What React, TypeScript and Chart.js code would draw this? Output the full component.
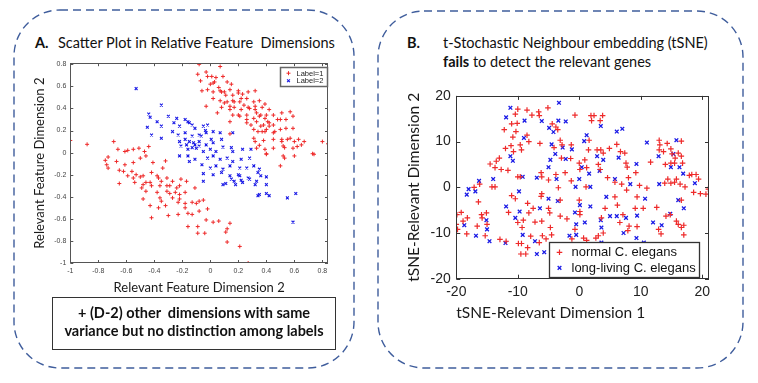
import React, { useEffect, useRef } from 'react';
import { Chart, registerables } from 'chart.js';

Chart.register(...registerables);

type Pt = [number, number];

// ---------- Panel A data: relevant feature dimensions ----------
const labelOne: Pt[] = [
  [-0.15, 0.82], [-0.08, 0.8], [0.07, 0.78], [-0.09, 0.71], [-0.03, 0.73], [0.01, 0.69], [0.04, 0.68], [0.09, 0.69],
  [-0.07, 0.65], [0.0, 0.62], [0.03, 0.64], [0.06, 0.59], [0.12, 0.64], [0.15, 0.62], [-0.06, 0.56], [-0.02, 0.57],
  [0.02, 0.55], [0.07, 0.56], [0.1, 0.55], [0.14, 0.57], [0.16, 0.52], [0.2, 0.56], [0.23, 0.53], [0.27, 0.55],
  [0.32, 0.56], [0.02, 0.49], [0.07, 0.47], [0.12, 0.46], [0.16, 0.47], [0.21, 0.46], [0.26, 0.49], [0.31, 0.46],
  [0.35, 0.47], [0.39, 0.44], [-0.03, 0.42], [0.08, 0.41], [0.14, 0.39], [0.17, 0.41], [0.22, 0.39], [0.27, 0.41],
  [0.32, 0.39], [0.37, 0.41], [0.42, 0.39], [0.16, 0.34], [0.21, 0.33], [0.26, 0.34], [0.31, 0.31], [0.35, 0.33],
  [0.4, 0.34], [0.45, 0.34], [0.51, 0.36], [0.57, 0.37], [0.14, 0.28], [0.26, 0.27], [0.33, 0.28], [0.38, 0.25],
  [0.42, 0.27], [0.5, 0.3], [0.54, 0.3], [0.59, 0.33], [0.31, 0.21], [0.37, 0.19], [0.4, 0.21], [0.45, 0.18],
  [0.5, 0.21], [0.54, 0.22], [0.59, 0.22], [0.14, 0.17], [0.31, 0.13], [0.38, 0.11], [0.45, 0.12], [0.51, 0.1],
  [0.57, 0.13], [0.63, 0.12], [0.67, 0.1], [0.33, 0.04], [0.39, 0.03], [0.45, 0.04], [0.52, 0.06], [0.59, 0.04],
  [0.65, 0.07], [0.8, 0.1], [0.84, 0.08], [0.4, -0.01], [0.52, -0.03], [0.6, -0.03], [0.73, -0.01], [0.5, -0.12],
  [-0.02, 0.69], [0.02, 0.63], [0.08, 0.55], [0.11, 0.52], [0.2, 0.54], [0.22, 0.49], [0.17, 0.46], [0.1, 0.45],
  [0.14, 0.42], [0.24, 0.43], [0.28, 0.4], [0.32, 0.42], [0.33, 0.36], [0.36, 0.34], [0.39, 0.31], [0.41, 0.28],
  [0.42, 0.24], [0.45, 0.25], [0.48, 0.3], [0.36, 0.24], [0.34, 0.19], [0.39, 0.19], [0.05, 0.36], [0.2, 0.34],
  [0.26, 0.3], [0.29, 0.25], [0.46, 0.19], [0.51, 0.12], [0.55, 0.12], [0.6, 0.1], [0.53, 0.045], [0.62, 0.055],
  [0.74, -0.015], [0.32, 0.1], [0.35, 0.066], [0.4, -0.015], [0.53, -0.05],
  [-1.0, 0.11], [-0.88, 0.075], [-0.69, 0.1],
  [-0.66, 0.03], [-0.61, 0.01], [-0.55, 0.03], [-0.51, 0.04], [-0.47, 0.01], [-0.73, -0.04], [-0.74, -0.11], [-0.67, -0.08],
  [-0.61, -0.11], [-0.55, -0.09], [-0.5, -0.05], [-0.46, -0.03], [-0.41, -0.09], [-0.34, -0.14], [-0.62, -0.17], [-0.56, -0.17],
  [-0.53, -0.2], [-0.48, -0.21], [-0.42, -0.18], [-0.37, -0.23], [-0.31, -0.23], [-0.27, -0.26], [-0.21, -0.24], [-0.17, -0.26],
  [-0.65, -0.28], [-0.54, -0.27], [-0.48, -0.29], [-0.43, -0.27], [-0.36, -0.3], [-0.29, -0.3], [-0.22, -0.3], [-0.11, -0.32],
  [-0.46, -0.35], [-0.38, -0.36], [-0.31, -0.35], [-0.25, -0.36], [-0.18, -0.36], [-0.48, -0.42], [-0.36, -0.41], [-0.27, -0.41],
  [-0.22, -0.42], [-0.05, -0.43], [-0.59, 0.02], [-0.44, 0.055], [-0.32, -0.075], [-0.75, -0.07],
  [-0.73, -0.14], [-0.65, -0.16], [-0.59, -0.21], [-0.55, -0.23], [-0.5, -0.22], [-0.49, -0.32], [-0.46, -0.27], [-0.42, -0.3],
  [-0.38, -0.21], [-0.35, -0.26], [-0.31, -0.3], [-0.29, -0.37], [-0.24, -0.32], [-0.22, -0.38], [-0.35, -0.44], [-0.32, -0.48],
  [-0.23, -0.45], [-0.18, -0.46], [-0.13, -0.45], [-0.16, -0.55], [-0.1, -0.46], [-0.08, -0.44], [-0.43, -0.48], [-0.37, -0.5],
  [-0.18, -0.5], [-0.08, -0.53], [-0.02, -0.51], [-0.42, -0.59], [-0.3, -0.57], [-0.23, -0.56], [-0.13, -0.56], [-0.03, -0.61],
  [0.02, -0.63], [0.06, -0.62], [0.14, -0.64], [-0.16, -0.67], [-0.09, -0.67], [0.12, -0.69], [-0.09, -0.73], [-0.04, -0.73],
  [0.11, -0.72], [0.12, -0.81], [0.21, -0.85], [0.27, -1.0],
];

const labelTwo: Pt[] = [
  [-0.53, 0.58], [-0.35, 0.43], [-0.44, 0.35], [-0.43, 0.32], [-0.3, 0.33], [-0.24, 0.31], [-0.18, 0.3], [-0.45, 0.23],
  [-0.38, 0.28], [-0.35, 0.24], [-0.26, 0.27], [-0.22, 0.24], [-0.15, 0.27], [-0.11, 0.22], [-0.05, 0.24], [-0.02, 0.25],
  [-0.42, 0.16], [-0.35, 0.13], [-0.27, 0.19], [-0.23, 0.16], [-0.18, 0.18], [-0.13, 0.15], [-0.08, 0.16], [-0.03, 0.18],
  [0.02, 0.19], [0.07, 0.18], [-0.22, 0.1], [-0.17, 0.07], [-0.12, 0.09], [-0.08, 0.1], [-0.03, 0.07], [0.02, 0.09],
  [0.08, 0.12], [0.16, 0.18], [-0.16, 0.03], [-0.1, 0.04], [-0.05, 0.01], [0.0, 0.03], [0.04, 0.01], [0.16, 0.01],
  [0.23, 0.03], [0.29, 0.03], [-0.22, -0.03], [-0.15, -0.08], [-0.06, -0.11], [-0.02, -0.05], [0.02, -0.03], [0.07, -0.06],
  [0.12, -0.05], [0.16, -0.08], [0.22, -0.06], [0.0, -0.14], [0.04, -0.12], [0.09, -0.15], [0.14, -0.12], [0.21, -0.14],
  [0.31, -0.12], [0.02, -0.2], [0.08, -0.18], [0.14, -0.21], [0.21, -0.21], [0.27, -0.23], [0.34, -0.18], [0.36, -0.21],
  [0.09, -0.29], [0.17, -0.26], [0.23, -0.27], [0.28, -0.24], [0.33, -0.26], [0.4, -0.29], [0.34, -0.39], [0.4, -0.37],
  [0.42, -0.39], [0.55, -0.41], [0.61, -0.37], [0.59, -0.63],
  [-0.065, 0.15], [-0.035, 0.2], [0.006, 0.12], [-0.08, 0.06], [0.09, 0.05], [0.15, 0.045], [0.28, -0.05],
  [-0.05, -0.19], [-0.05, -0.26], [0.2, -0.2], [0.26, -0.14], [0.35, -0.15], [0.4, -0.22], [0.22, -0.25], [0.15, -0.24],
  [0.11, -0.28], [0.18, -0.29], [0.32, -0.29], [0.35, -0.38],
  [-0.16, 0.28], [-0.13, 0.25], [-0.15, 0.1], [-0.11, 0.07], [-0.13, 0.045], [-0.21, 0.06], [-0.18, 0.12], [-0.16, -0.03],
  [-0.11, -0.06],
];

const panelATicks = [-1, -0.8, -0.6, -0.4, -0.2, 0, 0.2, 0.4, 0.6, 0.8];
const panelAXLimits = [-1, 0.84];
const panelAYLimits = [-1, 0.81];
const panelALabels = ['Label=1', 'Label=2'];

// ---------- Panel B data: tSNE embedding ----------
const normalElegans: Pt[] = [
  [-14.2, 0.1], [-13.7, 0.1], [-17.1, 0], [-16.2, 0.7], [-14.5, 5.1], [-13.5, 5.7], [-13.0, 6.4], [-13.7, 4.3],
  [-12.7, 3.9], [-11.6, 3.7], [-12.0, 8.5], [-11.1, 9.1], [-10.7, 7.8], [-12.2, 12.6], [-11.0, 13.9], [-10.4, 16.0],
  [-10.1, 14.0], [-10.3, 12.2], [-10.8, 11.0], [-8.5, 11.4], [-8.2, 10.0], [-9.6, 9.3], [-9.4, 8.2], [-10.0, 2.3],
  [-9.6, 2.3], [-10.0, 17.1], [-8.5, 16.9], [-7.7, 15.8], [-6.6, 16.5], [-6.5, 15.7], [-5.1, 17.4], [-6.4, 9.6],
  [-6.2, 3.2], [-6.1, 2.3], [-4.4, 13.9], [-3.8, 13.2], [-3.5, 12.6], [-3.1, 10.3], [-4.1, 8.7], [-2.8, 9.3],
  [-5.0, 1.6], [-3.8, 2.8], [-2.9, 6.4], [-2.3, 3.2], [-1.3, 9.3], [-1.4, 6.3], [-0.7, 15.8], [-1.3, 1.4],
  [0.0, 5.3], [0.1, 3.9], [0.9, 6.0], [1.2, 4.3], [1.1, 0.1], [1.5, 8.2], [1.6, 10.3], [1.9, 15.7],
  [2.4, 15.7], [2.0, 14.6], [3.4, 14.6], [3.8, 15.7], [2.9, 8.2], [3.5, 8.2], [3.9, 7.5], [3.1, 5.0],
  [3.4, 3.9], [4.6, 2.1], [4.9, 8.5], [6.1, 9.4], [6.7, 7.8], [7.4, 7.5], [7.6, 5.3], [7.8, 4.4],
  [5.8, 1.1], [6.9, 0.7], [8.0, 2.1], [9.2, 3.2], [9.8, 0.4], [11.0, -0.2], [11.6, 5.5], [13.0, 10.3],
  [13.1, 9.3], [13.0, 8.2], [14.3, 9.6], [13.7, 7.8], [14.9, 8.4], [15.1, 7.3], [15.6, 6.4], [14.9, 5.3],
  [15.5, 5.3], [16.1, 7.5], [16.6, 10.1], [16.6, 6.8], [16.8, 5.3], [14.0, 5.0], [13.9, 0.9], [14.9, 0.9],
  [15.5, 1.1], [15.8, 1.8], [16.4, 0.7], [17.2, 0.1], [17.9, 2.6], [18.3, 2.8], [19.0, 2.8], [19.4, 1.8],
  [14.4, 1.8],
  [-19.9, -6.0], [-19.2, -5.5], [-20.0, -8.1], [-19.8, -9.2], [-18.9, -7.4], [-18.2, -6.7], [-18.3, -10.2], [-16.4, -3.2],
  [-16.6, -8.5], [-15.8, -6.7], [-15.9, -6.0], [-15.1, -5.6], [-15.0, -8.1], [-15.3, -10.6], [-12.9, -11.4], [-11.9, -11.8],
  [-11.0, -1.8], [-10.4, -2.5], [-11.5, -5.5], [-10.0, -7.7], [-9.3, -8.8], [-9.1, -7.2], [-9.9, -12.3], [-9.4, -12.3],
  [-8.4, -13.2], [-9.5, -14.6], [-8.7, -14.6], [-8.4, -3.5], [-7.5, -4.6], [-8.2, -5.6], [-7.9, -10.7], [-7.2, -7.6],
  [-6.5, -12.1], [-6.1, -7.4], [-6.0, -10.6], [-5.4, -11.3], [-5.0, -4.6], [-4.8, -5.6], [-4.7, -8.8], [-4.5, -10.4],
  [-6.2, -2.0], [-6.1, -1.4], [-3.4, -0.1], [-3.1, -2.8], [-3.1, -6.3], [-2.0, -6.9], [-1.2, -11.3], [-0.7, -9.2],
  [0.0, -2.8], [0.1, -5.3], [0.1, -6.0], [0.7, -11.1], [1.2, -11.6], [2.7, -11.1], [3.1, -10.6], [3.6, -6.7],
  [3.9, -10.0], [4.2, -4.6], [6.2, -3.9], [5.8, -2.1], [6.6, -7.7], [7.1, -6.0], [7.7, -0.6], [8.1, -8.5],
  [7.9, -9.5], [9.1, -4.6], [9.4, -2.1], [9.4, -8.6], [10.4, -4.6], [12.6, -4.4], [12.9, -9.2], [13.3, -10.2],
  [14.1, -6.3], [14.8, -6.0], [15.8, -7.4], [16.1, -8.1], [16.6, -8.8], [17.0, -10.4], [17.0, -8.3], [16.6, -2.8],
  [18.6, -1.1], [19.7, -1.4], [20.6, -1.5], [21.0, -0.4],
];

const longLiving: Pt[] = [
  [-18.3, -1.6], [-18.0, -0.4], [-16.9, -0.9], [-16.3, 1.4], [-14.0, 1.8], [-11.2, 6.8], [-10.8, 5.8], [-11.9, 15.3],
  [-11.2, 17.4], [-8.9, 14.6], [-9.0, 10.8], [-9.2, 2.3], [-6.9, 2.1], [-9.8, -0.9], [-6.1, 14.5], [-4.9, 13.0],
  [-4.2, 12.1], [-3.4, 14.6], [-3.3, 18.5], [-2.2, 14.4], [-4.5, 9.4], [-3.9, 7.3], [-4.7, 6.0], [-5.0, 4.4],
  [-2.7, 8.7], [-2.2, 6.2], [-3.7, 1.8], [-1.2, 8.3], [-0.6, 0.1], [0.0, 1.8], [0.4, 4.4], [1.2, 11.4],
  [0.8, 10.1], [1.6, 3.0], [1.8, 0.1], [2.9, 6.8], [3.5, 13.4], [3.3, 3.6], [3.9, 6.0], [5.8, 1.8],
  [6.1, 12.2], [7.0, 12.8], [6.4, 6.5], [8.3, 0.7], [9.3, 5.1], [11.0, 9.8], [12.9, 6.8], [13.0, 0.7],
  [14.9, 4.4], [15.3, 7.3], [15.8, 10.3], [16.3, 4.4], [16.9, 3.0], [18.8, 0.9], [16.1, -2.8],
  [-18.7, -8.3], [-16.8, -10.6], [-15.1, -7.2], [-15.0, -9.2], [-14.6, -11.8], [-11.9, -4.2], [-12.0, -12.2], [-10.4, -6.7],
  [-9.7, -5.3], [-9.2, -10.4], [-7.2, -11.8], [-6.9, -14.6], [-5.7, -14.2], [-6.4, -4.6], [-5.0, -2.5], [-3.5, -3.0],
  [-0.7, -5.5], [-0.5, -8.1], [-1.6, -10.6], [-0.5, -10.4], [0.1, -3.9], [0.9, -7.7], [1.8, -4.2], [3.5, -7.2],
  [3.6, -8.8], [4.4, -2.1], [5.0, -6.3], [6.1, -6.3], [7.2, -10.0], [7.6, -6.7], [9.4, -6.2], [9.3, -11.1],
  [10.7, -2.5], [10.5, -12.1], [12.0, -7.7], [13.4, -8.3], [14.8, -5.8], [17.0, -4.6], [3.6, -12.1],
];

const panelBTicks = [-20, -10, 0, 10, 20];
const panelBXLimits = [-20, 21.1];
const panelBYLimits = [-20, 20];
const panelBLabels = ['normal C. elegans', 'long-living C. elegans'];

const RED = '#ee2a2a';
const BLUE = '#1a1ae6';

// ---------- plugins ----------
function drawMarker(ctx: CanvasRenderingContext2D, style: string, cx: number, cy: number, r: number, color: string, lw: number) {
  ctx.save();
  ctx.strokeStyle = color;
  ctx.lineWidth = lw;
  ctx.beginPath();
  if (style === 'cross') {
    ctx.moveTo(cx - r, cy); ctx.lineTo(cx + r, cy);
    ctx.moveTo(cx, cy - r); ctx.lineTo(cx, cy + r);
  } else {
    const d = r * Math.SQRT1_2;
    ctx.moveTo(cx - d, cy - d); ctx.lineTo(cx + d, cy + d);
    ctx.moveTo(cx - d, cy + d); ctx.lineTo(cx + d, cy - d);
  }
  ctx.stroke();
  ctx.restore();
}

const matlabBox = {
  id: 'matlabBox',
  afterDatasetsDraw(chart: any, _args: any, o: any) {
    const { ctx, chartArea: a, scales } = chart;
    const xs = scales.x;
    const ys = scales.y;
    ctx.save();
    ctx.strokeStyle = o.color;
    ctx.lineWidth = o.lineWidth;
    ctx.beginPath();
    for (const t of xs.ticks) {
      const px = Math.round(xs.getPixelForValue(t.value)) + 0.5;
      ctx.moveTo(px, a.bottom); ctx.lineTo(px, a.bottom - o.tick);
      ctx.moveTo(px, a.top); ctx.lineTo(px, a.top + o.tick);
    }
    for (const t of ys.ticks) {
      const py = Math.round(ys.getPixelForValue(t.value)) + 0.5;
      ctx.moveTo(a.left, py); ctx.lineTo(a.left + o.tick, py);
      ctx.moveTo(a.right, py); ctx.lineTo(a.right - o.tick, py);
    }
    ctx.stroke();
    ctx.strokeRect(Math.round(a.left) + 0.5, Math.round(a.top) + 0.5, Math.round(a.width) - 1, Math.round(a.height) - 1);
    ctx.restore();
  },
};

const boxLegend = {
  id: 'boxLegend',
  afterDraw(chart: any, _args: any, o: any) {
    const { ctx, chartArea: a } = chart;
    const ds = chart.data.datasets;
    ctx.save();
    ctx.font = `${o.size}px ${o.family}`;
    const tw = Math.max(...ds.map((d: any) => ctx.measureText(d.label).width));
    const w = o.textX + tw + o.padR;
    const h = o.padV * 2 + o.rowH * ds.length;
    const left = Math.round(a.right - o.right - w) + 0.5;
    const top = Math.round(o.fromBottom ? a.bottom - o.offY - h : a.top + o.offY) + 0.5;
    ctx.fillStyle = '#fff';
    ctx.fillRect(left, top, w, h);
    ctx.strokeStyle = o.border;
    ctx.lineWidth = o.borderWidth;
    ctx.strokeRect(left, top, Math.round(w), Math.round(h));
    ds.forEach((d: any, i: number) => {
      const cy = top + o.padV + o.rowH * (i + 0.5);
      drawMarker(ctx, d.pointStyle, left + o.markX, cy, d.pointRadius, d.borderColor, d.borderWidth);
      ctx.fillStyle = o.color;
      ctx.textBaseline = 'middle';
      ctx.textAlign = 'left';
      ctx.fillText(d.label, left + o.textX, cy + 0.5);
    });
    ctx.restore();
  },
};

function axis(lim: number[], ticks: number[], fit: (s: any) => void, tickFont: number, tickColor: string, tickPad: number,
  title: string, titleSize: number, titlePad: any, align: string) {
  return {
    type: 'linear',
    min: lim[0],
    max: lim[1],
    afterBuildTicks: (s: any) => { s.ticks = ticks.map((v) => ({ value: v })); },
    afterFit: fit,
    grid: { display: false, drawTicks: false },
    border: { display: false },
    ticks: {
      autoSkip: false,
      maxRotation: 0,
      padding: tickPad,
      color: tickColor,
      font: { family: 'Liberation Sans', size: tickFont },
      callback: (v: any) => String(v),
    },
    title: {
      display: true,
      text: title,
      color: '#1a1a1a',
      align,
      font: { family: 'Lato', size: titleSize },
      padding: titlePad,
    },
  };
}

function series(label: string, pts: Pt[], style: string, r: number, color: string, lw: number) {
  return {
    label,
    data: pts.map(([x, y]) => ({ x, y })),
    pointStyle: style,
    pointRadius: r,
    pointHoverRadius: r,
    borderColor: color,
    backgroundColor: color,
    borderWidth: lw,
  };
}

function configA(): any {
  return {
    type: 'scatter',
    data: {
      datasets: [
        series(panelALabels[0], labelOne, 'cross', 2, RED, 1),
        series(panelALabels[1], labelTwo, 'crossRot', 2, BLUE, 1.1),
      ],
    },
    options: {
      responsive: false,
      animation: false,
      events: [],
      layout: { padding: { top: 5.7, right: 12, left: 0, bottom: 0 } },
      scales: {
        x: axis(panelAXLimits, panelATicks, (s: any) => { s.height = 37; }, 7, '#444', 3.5,
          'Relevant Feature Dimension 2', 13, { top: 0, bottom: 4.7 }, 'center'),
        y: axis(panelAYLimits, panelATicks, (s: any) => { s.width = 50.3; }, 7, '#444', 4,
          'Relevant Feature Dimension 2', 13, { top: 12.2, bottom: 0 }, 'center'),
      },
      plugins: {
        legend: { display: false },
        tooltip: { enabled: false },
        matlabBox: { color: '#555', lineWidth: 1, tick: 3 },
        boxLegend: {
          family: 'Liberation Sans', size: 7.5, color: '#222', border: '#666', borderWidth: 1.5,
          right: 1, offY: 3.3, fromBottom: false, padV: 1.9, rowH: 7.6, markX: 8, textX: 16, padR: 4,
        },
      },
    },
    plugins: [matlabBox, boxLegend],
  };
}

function configB(): any {
  return {
    type: 'scatter',
    data: {
      datasets: [
        series(panelBLabels[0], normalElegans, 'cross', 2.8, RED, 1.2),
        series(panelBLabels[1], longLiving, 'crossRot', 2.6, BLUE, 1.3),
      ],
    },
    options: {
      responsive: false,
      animation: false,
      events: [],
      layout: { padding: { top: 7.7, right: 16, left: 0, bottom: 0 } },
      scales: {
        x: axis(panelBXLimits, panelBTicks, (s: any) => { s.height = 48.3; }, 14, '#222', 5,
          'tSNE-Relevant Dimension 1', 15.5, { top: 0, bottom: 5.2 }, 'start'),
        y: axis(panelBYLimits, panelBTicks, (s: any) => { s.width = 61.3; }, 14, '#222', 5.5,
          'tSNE-Relevant Dimension 2', 15.5, { top: 9.7, bottom: 0 }, 'center'),
      },
      plugins: {
        legend: { display: false },
        tooltip: { enabled: false },
        matlabBox: { color: '#333', lineWidth: 1, tick: 4 },
        boxLegend: {
          family: 'Liberation Sans', size: 13, color: '#111', border: '#333', borderWidth: 1.3,
          right: 10, offY: 2, fromBottom: true, padV: 2, rowH: 15.6, markX: 10, textX: 22, padR: 4,
        },
      },
    },
    plugins: [matlabBox, boxLegend],
  };
}

const heading: React.CSSProperties = {
  position: 'absolute',
  fontFamily: 'Lato, "Open Sans", sans-serif',
  fontSize: 14.5,
  lineHeight: '18px',
  color: '#111',
  whiteSpace: 'pre',
};

export default function App() {
  const refA = useRef<HTMLCanvasElement>(null);
  const refB = useRef<HTMLCanvasElement>(null);

  useEffect(() => {
    const a = new Chart(refA.current as HTMLCanvasElement, configA());
    const b = new Chart(refB.current as HTMLCanvasElement, configB());
    return () => {
      a.destroy();
      b.destroy();
    };
  }, []);

  return (
    <div style={{ position: 'fixed', left: 0, top: 0, width: 758, height: 383, background: '#fff', overflow: 'hidden' }}>
      <svg width={758} height={383} style={{ position: 'absolute', left: 0, top: 0 }}>
        <rect x={14} y={10} width={340} height={358} rx={46} ry={46} fill="none" stroke="#3f5d9c" strokeWidth={1.4} strokeDasharray="8 5" />
        <rect x={378} y={11} width={365} height={357} rx={46} ry={46} fill="none" stroke="#3f5d9c" strokeWidth={1.4} strokeDasharray="8 5" />
      </svg>

      <div style={{ ...heading, left: 35, top: 34, fontWeight: 700 }}>A.</div>
      <div style={{ ...heading, left: 58, top: 34 }}>{'Scatter Plot in Relative Feature  Dimensions'}</div>

      <div style={{ ...heading, left: 407, top: 34, fontWeight: 700 }}>B.</div>
      <div style={{ ...heading, left: 443, top: 34 }}>t-Stochastic Neighbour embedding (tSNE)</div>
      <div style={{ ...heading, left: 443, top: 53 }}>
        <b>fails</b> to detect the relevant genes
      </div>

      <canvas ref={refA} width={320} height={245} style={{ position: 'absolute', left: 20, top: 55, width: 320, height: 245 }} />
      <canvas ref={refB} width={330} height={245} style={{ position: 'absolute', left: 395, top: 82, width: 330, height: 245 }} />

      <div
        style={{
          position: 'absolute', left: 52, top: 297, width: 282, height: 45, border: '1px solid #333',
          fontFamily: 'Lato, "Open Sans", sans-serif', fontWeight: 700, fontSize: 14.5, lineHeight: '18px',
          textAlign: 'center', paddingTop: 6, boxSizing: 'content-box', color: '#111', whiteSpace: 'pre',
        }}
      >
        {'+ (D-2) other  dimensions with same\nvariance but no distinction among labels'}
      </div>
    </div>
  );
}
